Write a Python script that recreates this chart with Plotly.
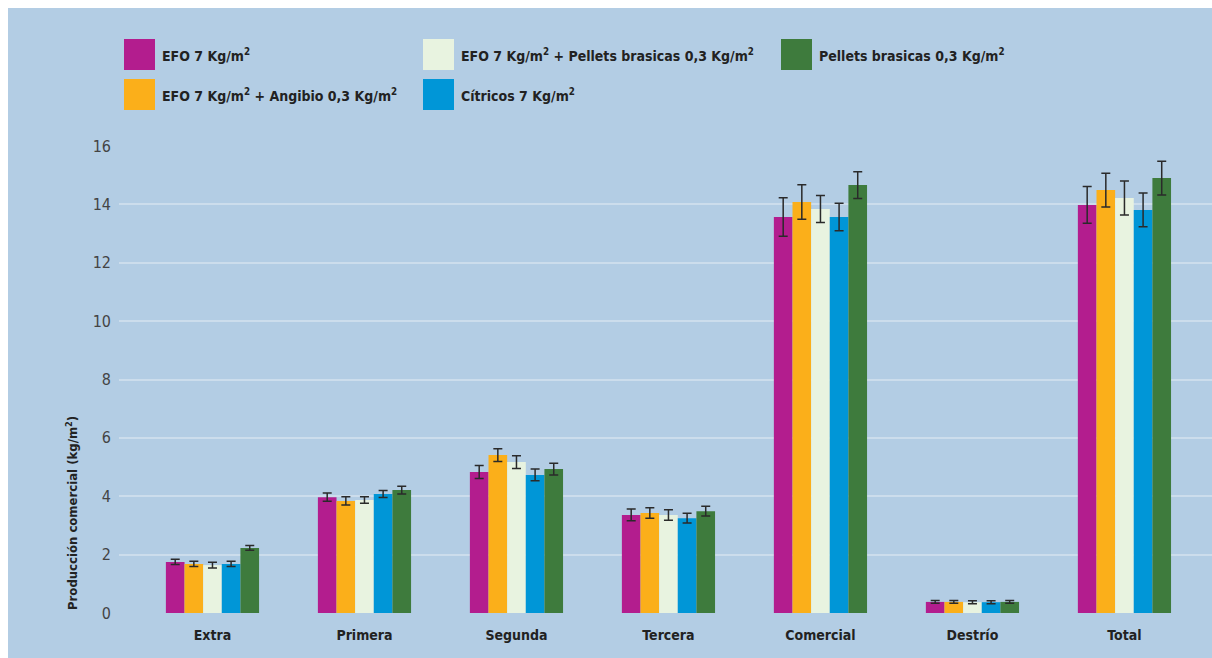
import plotly.graph_objects as go

# Producción por categoría comercial (kg/m²) con desviación
categorias = ["Extra", "Primera", "Segunda", "Tercera", "Comercial", "Destrío", "Total"]

efo = [1.75, 3.97, 4.83, 3.36, 13.57, 0.38, 13.98]
efo_angibio = [1.68, 3.84, 5.41, 3.43, 14.08, 0.38, 14.49]
efo_pellets = [1.64, 3.87, 5.17, 3.36, 13.84, 0.37, 14.22]
citricos = [1.68, 4.08, 4.73, 3.25, 13.57, 0.37, 13.81]
pellets = [2.23, 4.21, 4.93, 3.49, 14.66, 0.38, 14.90]

efo_err = [0.09, 0.14, 0.22, 0.20, 0.66, 0.05, 0.63]
efo_angibio_err = [0.09, 0.14, 0.22, 0.18, 0.59, 0.05, 0.58]
efo_pellets_err = [0.10, 0.11, 0.22, 0.18, 0.46, 0.05, 0.58]
citricos_err = [0.09, 0.12, 0.20, 0.17, 0.47, 0.05, 0.58]
pellets_err = [0.08, 0.13, 0.20, 0.17, 0.46, 0.05, 0.58]

nombres = [
    "EFO 7 Kg/m<sup>2</sup>",
    "EFO 7 Kg/m<sup>2</sup> + Angibio 0,3 Kg/m<sup>2</sup>",
    "EFO 7 Kg/m<sup>2</sup> + Pellets brasicas 0,3 Kg/m<sup>2</sup>",
    "Cítricos 7 Kg/m<sup>2</sup>",
    "Pellets brasicas 0,3 Kg/m<sup>2</sup>",
]
colores = ["#B31D8E", "#FBAF1A", "#E8F3E0", "#0096D7", "#3E7B3D"]
series = [efo, efo_angibio, efo_pellets, citricos, pellets]
errores = [efo_err, efo_angibio_err, efo_pellets_err, citricos_err, pellets_err]

W, H = 1212, 658
ML, MR, MT, MB = 119, 0, 146, 45
PW, PH = W - ML - MR, H - MT - MB

FONT = "DejaVu Sans Condensed, Liberation Sans Narrow, Roboto, sans-serif"
BG = "#B3CDE4"


def px_x(x):
    return (x - ML) / PW


def px_y(y):
    return (H - MB - y) / PH


fig = go.Figure()
for nombre, color, vals, err in zip(nombres, colores, series, errores):
    fig.add_trace(go.Bar(
        x=categorias, y=vals, name=nombre,
        marker=dict(color=color, line=dict(width=0)),
        error_y=dict(type="data", array=err, visible=True,
                     color="#2A2A2A", thickness=1.5, width=4.5),
        showlegend=False,
    ))

shapes = []
annotations = []

# Bandas blancas del marco (arriba e izquierda)
shapes.append(dict(type="rect", xref="paper", yref="paper", layer="above",
                   x0=px_x(0), x1=px_x(8), y0=px_y(H), y1=px_y(0),
                   fillcolor="white", line=dict(width=0)))
shapes.append(dict(type="rect", xref="paper", yref="paper", layer="above",
                   x0=px_x(0), x1=px_x(W), y0=px_y(8), y1=px_y(0),
                   fillcolor="white", line=dict(width=0)))

# Leyenda en rejilla: (columna x del cuadro, fila y del cuadro)
posiciones = [(124, 39), (124, 79), (423, 39), (423, 79), (781, 39)]
for (x0, y0), nombre, color in zip(posiciones, nombres, colores):
    shapes.append(dict(type="rect", xref="paper", yref="paper",
                       x0=px_x(x0), x1=px_x(x0 + 31), y0=px_y(y0 + 31), y1=px_y(y0),
                       fillcolor=color, line=dict(width=0)))
    annotations.append(dict(xref="paper", yref="paper", x=px_x(x0 + 36), y=px_y(y0 + 16),
                            text="<b>" + nombre + "</b>", showarrow=False,
                            xanchor="left", yanchor="middle",
                            font=dict(family=FONT, size=14, color="#222222")))

annotations.append(dict(xref="paper", yref="paper", x=px_x(72), y=px_y(513),
                        text="<b>Producción comercial (kg/m<sup>2</sup>)</b>",
                        textangle=-90, showarrow=False,
                        xanchor="center", yanchor="middle",
                        font=dict(family=FONT, size=13, color="#222222")))

fig.update_layout(
    width=W, height=H,
    margin=dict(l=ML, r=MR, t=MT, b=MB, pad=0),
    paper_bgcolor=BG, plot_bgcolor=BG,
    barmode="group", bargap=0.387, bargroupgap=0,
    shapes=shapes, annotations=annotations,
    showlegend=False,
    xaxis=dict(range=[-0.615, 6.576], showgrid=False, zeroline=False, showline=False,
               ticks="", tickfont=dict(family=FONT, size=14, color="#222222"),
               tickprefix="<b>", ticksuffix="</b>", ticklabelstandoff=12),
    yaxis=dict(range=[0, 16], dtick=2, showgrid=True, gridcolor="#CCDDEC", gridwidth=2,
               zeroline=False, showline=False, ticks="",
               tickfont=dict(family=FONT, size=16, color="#444444"),
               ticklabelstandoff=7),
)

fig.write_html("out.html")
